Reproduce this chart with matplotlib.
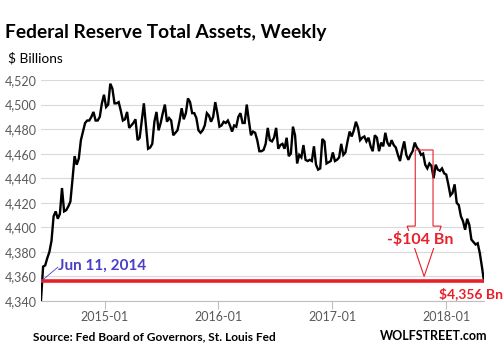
import matplotlib
matplotlib.use("Agg")
import matplotlib.pyplot as plt
import matplotlib.dates as mdates
from matplotlib.patches import FancyArrow
import pandas as pd

# ---- data (weekly Fed total assets, $ billions) ----
values = [
    4341, 4368, 4369, 4375, 4380, 4389, 4409, 4413, 4407, 4411, 4432, 4413, 4414, 4417,
    4421, 4439, 4458, 4451, 4456, 4471, 4478, 4485, 4487, 4487, 4490, 4494, 4487, 4487,
    4490, 4501, 4508, 4498, 4500, 4517, 4513, 4501, 4501, 4502, 4495, 4487, 4488, 4494,
    4481, 4483, 4485, 4488, 4471, 4473, 4487, 4501, 4482, 4464, 4465, 4468, 4486, 4494,
    4479, 4485, 4493, 4500, 4486, 4489, 4487, 4475, 4477, 4479, 4487, 4497, 4488, 4493,
    4505, 4502, 4493, 4493, 4489, 4479, 4477, 4479, 4483, 4493,
    4491, 4486, 4490, 4502, 4493, 4482, 4483, 4486, 4485, 4487, 4483, 4478, 4483, 4482,
    4490, 4493, 4485, 4485, 4500, 4487, 4475, 4478, 4477, 4471, 4462, 4462, 4463, 4468,
    4481, 4471, 4470, 4473, 4481, 4464, 4467, 4468, 4464, 4473, 4458, 4460, 4482,
    4475, 4452, 4459, 4457, 4467, 4455, 4454, 4455, 4454, 4466, 4451, 4447, 4448, 4472,
    4470, 4452, 4453, 4454, 4461, 4454, 4455, 4457, 4468, 4459, 4461, 4470, 4478, 4474,
    4479, 4486, 4481, 4471, 4473, 4474, 4470, 4473, 4466, 4462, 4475,
    4473, 4462, 4469, 4466, 4477, 4469, 4466, 4471, 4467, 4465, 4459, 4454, 4463, 4470,
    4459, 4455, 4459, 4462, 4469, 4465, 4463, 4459, 4460, 4451, 4448, 4452, 4450, 4440,
    4451, 4447, 4446, 4448, 4444, 4443, 4435, 4426, 4428, 4435, 4420, 4418, 4409, 4405,
    4398, 4407, 4402, 4390, 4388, 4386, 4387, 4379, 4368, 4356,
]
start_date = "2014-06-11"
end_date = "2018-05-02"
dates = pd.date_range(start_date, end_date, periods=len(values))

y_ticks = [4340, 4360, 4380, 4400, 4420, 4440, 4460, 4480, 4500, 4520]
x_ticks = ["2015-01-01", "2016-01-01", "2017-01-01", "2018-01-01"]
x_tick_labels = ["2015-01", "2016-01", "2017-01", "2018-01"]

current_level = 4356
qt_start_level = 4463
qt_drop = 104

title = "Federal Reserve Total Assets, Weekly"
unit_label = "$ Billions"
source = "Source: Fed Board of Governors, St. Louis Fed"
brand = "WOLFSTREET.com"
date_note = "Jun 11, 2014"

RED = "#e8202a"
BLUE = "#4b3fc9"
GREY_TXT = "#595959"

plt.rcParams["font.family"] = ["Lato", "DejaVu Sans"]

fig = plt.figure(figsize=(5.04, 3.5), dpi=100)
ax = fig.add_axes([41 / 504, 1 - 301 / 350, (484 - 41) / 504, (301 - 80) / 350])

ax.plot(dates, values, color="black", lw=1.7, zorder=3, solid_joinstyle="miter")
ax.axhline(current_level, color=RED, lw=2.6, zorder=4)

ax.set_ylim(y_ticks[0], y_ticks[-1])
ax.set_xlim(dates[0], dates[-1])
ax.set_yticks(y_ticks)
ax.set_yticklabels([f"{v:,}" for v in y_ticks])
ax.set_xticks([pd.Timestamp(d) for d in x_ticks])
ax.set_xticklabels(x_tick_labels)

ax.grid(axis="y", color="#d9d9d9", lw=0.8)
ax.set_axisbelow(True)
for s in ["top", "right", "left"]:
    ax.spines[s].set_visible(False)
ax.spines["bottom"].set_color("#bfbfbf")
ax.spines["bottom"].set_linewidth(0.8)
ax.tick_params(axis="y", length=0, pad=3, labelsize=9, labelcolor=GREY_TXT)
ax.tick_params(axis="x", length=6, width=0.8, color="#bfbfbf", pad=1.5,
               labelsize=9, labelcolor=GREY_TXT)

# block arrow showing the drop
arrow_x = mdates.date2num(pd.Timestamp("2017-10-22"))
tip_level = current_level + 4
arr = FancyArrow(arrow_x, qt_start_level, 0, -(qt_start_level - tip_level),
                 width=57, head_width=109, head_length=41,
                 length_includes_head=True, fill=False, edgecolor=RED, lw=0.8, zorder=5)
ax.add_patch(arr)
ax.text(mdates.date2num(pd.Timestamp("2017-10-10")), 4390, f"-${qt_drop} Bn",
        color=RED, fontsize=11.5, fontweight="bold", ha="center", va="center", zorder=6,
        bbox=dict(boxstyle="square,pad=0.05", fc="white", ec="none"))

# date note with leader line
start_num = mdates.date2num(dates[0])
ax.plot([start_num, start_num + 54], [current_level, current_level + 11.5],
        color=BLUE, lw=0.6, zorder=6)
ax.text(start_num + 55, current_level + 9.5, date_note, color=BLUE, fontsize=11,
        fontweight="bold", ha="left", va="baseline", zorder=6)

fig.text(503 / 504, 1 - 298 / 350, f"${current_level:,} Bn", color=RED, fontsize=10,
         fontweight="bold", ha="right", va="baseline")

fig.text(5 / 504, 1 - 38 / 350, title, fontsize=13.8, fontweight="bold", ha="left",
         va="baseline", color="black")
fig.text(8 / 504, 1 - 63 / 350, unit_label, fontsize=9.9, ha="left", va="baseline",
         color="black")
fig.text(33 / 504, 1 - 340 / 350, source, fontsize=8.6, fontweight="bold", ha="left",
         va="baseline", color="black")
fig.text(487 / 504, 1 - 340 / 350, brand, fontsize=9, fontweight="bold", ha="right",
         va="baseline", color="black")

fig.savefig("out.png", dpi=100)
